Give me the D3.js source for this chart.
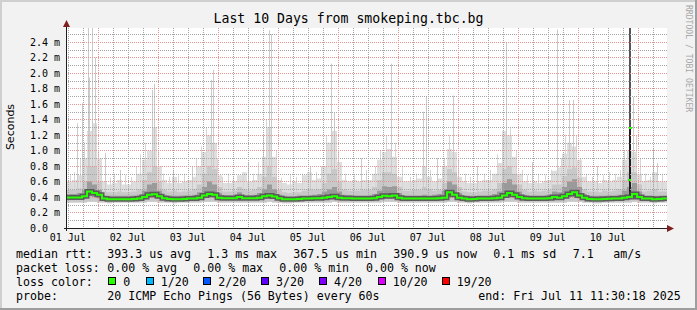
<!DOCTYPE html>
<html>
<head>
<meta charset="utf-8">
<style>
  body { margin: 0; background: #f2f2f2; }
  svg { display: block; }
  text { font-family: "DejaVu Sans Mono", monospace; fill: #000; }
</style>
</head>
<body>
<svg id="chart" width="697" height="310"></svg>
<script src="https://cdnjs.cloudflare.com/ajax/libs/d3/7.8.5/d3.min.js"></script>
<script>
// 10 days, one value per 2 hour bin (values in ms)
const startTime = Date.UTC(2025, 6, 1, 11, 42);
const binHours = 2;

const medianMs = [
  0.395,0.395,0.395,0.41,0.47,0.45,0.43,0.38,0.372,0.372,0.372,0.372,
  0.372,0.375,0.38,0.40,0.43,0.435,0.41,0.385,0.375,0.372,0.372,0.375,
  0.38,0.38,0.39,0.42,0.44,0.43,0.39,0.383,0.383,0.383,0.40,0.385,
  0.385,0.385,0.39,0.41,0.42,0.405,0.385,0.372,0.37,0.37,0.375,0.38,
  0.38,0.385,0.385,0.39,0.40,0.41,0.39,0.385,0.383,0.38,0.38,0.38,
  0.38,0.385,0.40,0.415,0.41,0.42,0.39,0.38,0.38,0.38,0.38,0.38,
  0.38,0.38,0.385,0.39,0.46,0.43,0.39,0.38,0.372,0.375,0.38,0.38,
  0.38,0.385,0.39,0.42,0.45,0.43,0.40,0.385,0.38,0.38,0.38,0.38,
  0.385,0.40,0.39,0.41,0.44,0.46,0.42,0.39,0.375,0.372,0.372,0.375,
  0.378,0.38,0.38,0.39,0.40,0.44,0.40,0.38,0.38,0.372,0.375,0.38
];
const loMs = [
  0.33,0.33,0.33,0.33,0.34,0.34,0.33,0.33,0.32,0.33,0.33,0.33,
  0.33,0.33,0.33,0.33,0.34,0.34,0.33,0.33,0.33,0.32,0.33,0.33,
  0.33,0.33,0.33,0.34,0.34,0.34,0.33,0.33,0.33,0.33,0.33,0.33,
  0.33,0.33,0.33,0.33,0.34,0.33,0.33,0.32,0.32,0.33,0.33,0.33,
  0.33,0.33,0.33,0.33,0.33,0.34,0.33,0.33,0.33,0.33,0.33,0.33,
  0.33,0.33,0.33,0.34,0.34,0.34,0.33,0.33,0.33,0.33,0.33,0.33,
  0.33,0.33,0.33,0.33,0.34,0.34,0.33,0.33,0.32,0.33,0.33,0.33,
  0.33,0.33,0.33,0.34,0.34,0.34,0.33,0.33,0.33,0.33,0.33,0.33,
  0.33,0.33,0.33,0.33,0.34,0.34,0.34,0.33,0.33,0.32,0.32,0.33,
  0.33,0.33,0.33,0.33,0.33,0.34,0.33,0.33,0.33,0.32,0.33,0.33
];
const p25Ms = [
  0.37,0.37,0.37,0.38,0.41,0.40,0.38,0.355,0.35,0.35,0.35,0.35,
  0.35,0.35,0.355,0.37,0.39,0.395,0.375,0.36,0.355,0.35,0.35,0.35,
  0.355,0.355,0.365,0.39,0.40,0.39,0.365,0.36,0.36,0.36,0.37,0.36,
  0.36,0.36,0.365,0.38,0.39,0.38,0.36,0.35,0.35,0.35,0.355,0.355,
  0.355,0.36,0.36,0.365,0.37,0.38,0.365,0.36,0.36,0.355,0.355,0.355,
  0.355,0.36,0.37,0.385,0.38,0.39,0.365,0.355,0.355,0.355,0.355,0.355,
  0.355,0.355,0.36,0.365,0.41,0.40,0.365,0.355,0.35,0.35,0.355,0.355,
  0.355,0.36,0.365,0.39,0.41,0.395,0.37,0.36,0.355,0.355,0.355,0.355,
  0.36,0.37,0.365,0.38,0.40,0.41,0.385,0.36,0.35,0.35,0.35,0.35,
  0.355,0.355,0.355,0.365,0.37,0.40,0.37,0.355,0.355,0.35,0.35,0.355
];
const p75Ms = [
  0.44,0.44,0.45,0.49,0.60,0.56,0.49,0.42,0.415,0.415,0.415,0.415,
  0.415,0.42,0.43,0.48,0.56,0.58,0.48,0.43,0.42,0.415,0.415,0.42,
  0.42,0.43,0.46,0.53,0.60,0.56,0.45,0.425,0.425,0.425,0.46,0.425,
  0.425,0.43,0.45,0.50,0.56,0.50,0.43,0.415,0.41,0.41,0.42,0.42,
  0.42,0.43,0.44,0.47,0.50,0.53,0.47,0.43,0.425,0.42,0.42,0.42,
  0.42,0.44,0.48,0.54,0.53,0.54,0.45,0.42,0.42,0.42,0.42,0.43,
  0.42,0.43,0.44,0.48,0.60,0.56,0.45,0.42,0.415,0.415,0.42,0.42,
  0.42,0.44,0.47,0.58,0.63,0.56,0.47,0.43,0.42,0.42,0.42,0.42,
  0.43,0.47,0.46,0.53,0.60,0.63,0.53,0.44,0.415,0.415,0.415,0.415,
  0.42,0.42,0.43,0.48,0.53,0.58,0.47,0.42,0.42,0.415,0.415,0.42
];
const p90Ms = [
  0.49,0.49,0.51,0.60,0.80,0.80,0.60,0.47,0.46,0.46,0.47,0.46,
  0.46,0.47,0.50,0.62,0.72,0.80,0.60,0.49,0.47,0.48,0.46,0.47,
  0.48,0.50,0.56,0.70,0.80,0.76,0.53,0.47,0.47,0.48,0.53,0.50,
  0.48,0.49,0.53,0.66,0.80,0.66,0.49,0.46,0.45,0.46,0.46,0.48,
  0.50,0.49,0.50,0.58,0.70,0.76,0.60,0.49,0.48,0.48,0.48,0.49,
  0.49,0.53,0.62,0.72,0.72,0.70,0.53,0.48,0.48,0.49,0.49,0.53,
  0.50,0.48,0.49,0.58,0.76,0.72,0.53,0.47,0.46,0.46,0.47,0.48,
  0.48,0.50,0.58,0.76,0.80,0.70,0.56,0.49,0.47,0.48,0.47,0.48,
  0.49,0.56,0.56,0.67,0.76,0.78,0.65,0.50,0.47,0.47,0.46,0.48,
  0.47,0.48,0.50,0.62,0.72,0.72,0.56,0.47,0.48,0.50,0.47,0.47
];
const hiMs = [
  0.60,0.62,0.68,0.90,1.25,1.35,0.90,0.60,0.56,0.58,0.62,0.56,
  0.56,0.60,0.70,0.88,1.00,1.30,0.80,0.62,0.58,0.66,0.58,0.60,
  0.62,0.66,0.80,0.98,1.20,1.10,0.68,0.58,0.58,0.60,0.68,0.72,
  0.60,0.62,0.70,0.92,1.30,0.92,0.62,0.58,0.56,0.60,0.58,0.68,
  0.72,0.62,0.64,0.80,1.10,1.25,0.85,0.62,0.60,0.62,0.60,0.62,
  0.62,0.70,0.88,0.98,1.02,0.92,0.66,0.60,0.60,0.62,0.64,0.80,
  0.66,0.60,0.64,0.80,1.02,0.98,0.66,0.60,0.58,0.58,0.60,0.62,
  0.62,0.70,0.84,1.25,1.20,0.92,0.70,0.60,0.58,0.60,0.58,0.60,
  0.62,0.74,0.78,0.96,1.10,1.05,0.88,0.66,0.60,0.60,0.58,0.62,
  0.60,0.62,0.66,0.88,1.00,0.98,0.70,0.60,0.62,0.72,0.60,0.60
];
// tall single-ping spikes: hours after start, height in ms
const spikeHours = [4.0, 6.0, 8.4, 8.9, 10.0, 11.2, 15.2, 21.2, 34.0, 34.9, 42.4, 50.0, 57.5, 58.5, 72.4, 80.9, 81.6, 97.2, 105.6, 106.9, 117.6, 129.6, 142.5, 143.6, 148.0, 154.5, 164.0, 175.6, 186.0, 195.9, 200.9, 202.3, 212.0, 226.3, 234.4, 236.0];
const spikeMs    = [1.35, 1.61, 2.58, 1.94, 2.58, 2.20, 0.97, 0.75, 1.78, 1.86, 0.75, 0.80, 1.91, 2.04, 0.85, 2.55, 2.50, 0.80, 2.12, 1.48, 0.90, 2.12, 1.50, 1.69, 0.90, 1.71, 0.80, 2.40, 0.85, 2.56, 1.65, 1.65, 0.80, 1.69, 1.03, 0.84];
// shorter spikes that make up the ragged top of the smoke
const smallSpikeHours = [1.2, 2.8, 5.2, 6.8, 12.4, 13.6, 17.2, 18.8, 23.2, 25.6, 27.6, 29.2, 31.2, 36.4, 38.4, 40.8, 44.4, 46.8, 51.6, 53.6, 55.6, 60.0, 62.0, 64.4, 66.4, 70.4, 74.4, 76.4, 78.4, 79.6, 83.6, 85.6, 89.2, 91.6, 94.0, 99.6, 101.6, 103.6, 108.4, 111.2, 114.8, 119.6, 123.2, 125.2, 127.6, 131.2, 134.0, 137.2, 139.6, 145.2, 150.8, 152.8, 156.4, 159.2, 161.2, 166.8, 169.2, 172.0, 174.0, 177.2, 179.6, 182.0, 184.0, 188.4, 191.2, 193.6, 197.6, 199.2, 203.6, 205.2, 207.6, 210.0, 214.4, 216.8, 219.2, 221.2, 222.8, 227.6, 229.2, 231.2, 233.2, 238.0];
const smallSpikeMs    = [0.68, 0.72, 0.90, 1.10, 1.00, 0.80, 0.65, 0.70, 0.68, 0.66, 0.80, 0.95, 1.10, 1.00, 0.70, 0.66, 0.68, 0.70, 0.90, 1.05, 1.30, 0.90, 0.66, 0.70, 0.66, 0.68, 0.70, 0.85, 1.20, 1.40, 1.00, 0.65, 0.68, 0.66, 0.70, 0.72, 0.80, 1.20, 1.00, 0.70, 0.68, 0.75, 0.80, 1.00, 1.20, 1.10, 0.80, 0.66, 0.70, 0.75, 0.90, 1.20, 0.90, 0.70, 0.66, 0.70, 0.75, 0.95, 1.20, 1.30, 1.00, 0.75, 0.68, 0.70, 0.68, 0.75, 0.90, 1.20, 1.20, 0.90, 0.70, 0.66, 0.68, 0.72, 0.70, 0.75, 1.00, 1.20, 0.90, 0.70, 0.66, 0.70];
// the one burst where all pings were slow (10 Jul)
const burstHour = 224.7;
const burstTopMs = 2.58;
const burstMedianMs = [0.62, 1.29];

const yTicks = [0.0, 0.2, 0.4, 0.6, 0.8, 1.0, 1.2, 1.4, 1.6, 1.8, 2.0, 2.2, 2.4];
const lossLabels = ["0", "1/20", "2/20", "3/20", "4/20", "10/20", "19/20"];
const lossColors = ["#26ff00", "#00b8ff", "#0059ff", "#5e00ff", "#7e00ff", "#dd00ff", "#ff0000"];
const legendRows = [
  ["median rtt:", "393.3 us avg", "1.3 ms max", "367.5 us min", "390.9 us now", "0.1 ms sd", "7.1", "am/s"],
  ["packet loss:", "0.00 % avg", "0.00 % max", "0.00 % min", "0.00 % now"],
  ["loss color:"],
  ["probe:", "20 ICMP Echo Pings (56 Bytes) every 60s", "end: Fri Jul 11 11:30:18 2025"]
];

const W = 697, H = 310;
const plot = { left: 67, right: 667, top: 28, bottom: 228 };
const hour = 3600e3;
const svg = d3.select("#chart");

const x = d3.scaleUtc()
  .domain([new Date(startTime), new Date(startTime + 240 * hour)])
  .range([plot.left, plot.right]);
const y = d3.scaleLinear().domain([0, 2.58]).range([plot.bottom, plot.top]);
const hx = h => Math.round(x(new Date(startTime + h * hour))) + 0.5;

// dotted grid patterns: one lit pixel every two
const defs = svg.append("defs");
[["hGray", 2, 1, "#a4a4a4"], ["hRed", 2, 1, "#e69494"], ["vGray", 1, 2, "#a4a4a4"], ["vRed", 1, 2, "#e69494"]]
  .forEach(([id, w, h, c]) => {
    defs.append("pattern").attr("id", id).attr("patternUnits", "userSpaceOnUse")
      .attr("width", w).attr("height", h)
      .append("rect").attr("width", 1).attr("height", 1).attr("fill", c);
  });

// frame
svg.append("rect").attr("width", W).attr("height", H).attr("fill", "#f2f2f2");
svg.append("path").attr("d", `M0,${H} V0 H${W}`).attr("stroke", "#cfcfcf").attr("stroke-width", 2).attr("fill", "none").attr("transform", "translate(1,1)");
svg.append("path").attr("d", `M0,${H - 1} H${W - 1} V0`).attr("stroke", "#9e9e9e").attr("stroke-width", 2).attr("fill", "none");
svg.append("rect").attr("x", plot.left).attr("y", plot.top)
  .attr("width", plot.right - plot.left).attr("height", plot.bottom - plot.top).attr("fill", "#fff");

svg.append("clipPath").attr("id", "clip").append("rect")
  .attr("x", plot.left).attr("y", plot.top)
  .attr("width", plot.right - plot.left).attr("height", plot.bottom - plot.top);
const g = svg.append("g").attr("clip-path", "url(#clip)");

const rows = medianMs.map((m, i) => ({
  t: new Date(startTime + i * binHours * hour),
  median: m, lo: loMs[i], p25: p25Ms[i], p75: p75Ms[i], p90: p90Ms[i], hi: hiMs[i]
}));
rows.push(Object.assign({}, rows[rows.length - 1], { t: new Date(startTime + 240 * hour) }));

const band = (lo, hi) => d3.area().curve(d3.curveStepAfter)
  .x(d => x(d.t)).y0(d => y(d[lo])).y1(d => y(d[hi]));

g.append("path").datum(rows).attr("d", band("lo", "hi")).attr("fill", "#dedede");

g.selectAll(".sspike").data(smallSpikeHours).join("line")
  .attr("class", "sspike")
  .attr("x1", hx).attr("x2", hx)
  .attr("y1", y(0.45)).attr("y2", (h, i) => y(smallSpikeMs[i]))
  .attr("stroke", "#d6d6d6");
g.selectAll(".spike").data(spikeHours).join("line")
  .attr("class", "spike")
  .attr("x1", hx).attr("x2", hx)
  .attr("y1", y(0.45)).attr("y2", (h, i) => y(spikeMs[i]))
  .attr("stroke", "#cacaca");

g.append("path").datum(rows).attr("d", band("lo", "p90")).attr("fill", "#c8c8c8");
g.append("path").datum(rows).attr("d", band("p25", "p75")).attr("fill", "#9a9a9a");

// burst column
const bx = Math.round(x(new Date(startTime + burstHour * hour)));
g.append("rect").attr("x", bx).attr("width", 2)
  .attr("y", y(burstTopMs)).attr("height", y(d3.max(burstMedianMs)) - y(burstTopMs)).attr("fill", "#555");
g.append("rect").attr("x", bx).attr("width", 2)
  .attr("y", y(d3.max(burstMedianMs))).attr("height", y(0.42) - y(d3.max(burstMedianMs))).attr("fill", "#1e1e1e");

// grid, drawn over the smoke like rrdtool does
const grid = g.append("g").attr("shape-rendering", "crispEdges");
const hLines = d3.range(0, 26).map(i => i / 10);
grid.selectAll(".hg").data(hLines).join("rect")
  .attr("class", "hg")
  .attr("x", plot.left).attr("width", plot.right - plot.left)
  .attr("y", d => Math.round(y(d))).attr("height", 1)
  .attr("fill", (d, i) => i % 2 === 0 ? "url(#hRed)" : "url(#hGray)");
const vTimes = d3.utcHour.every(6).range(x.domain()[0], x.domain()[1]);
grid.selectAll(".vg").data(vTimes).join("rect")
  .attr("class", "vg")
  .attr("y", plot.top).attr("height", plot.bottom - plot.top)
  .attr("x", d => Math.round(x(d))).attr("width", 1)
  .attr("fill", d => d.getUTCHours() === 0 ? "url(#vRed)" : "url(#vGray)");

// median: dark smoke core hugging it, then the green line
const medLine = d3.line().curve(d3.curveStepAfter).x(d => x(d.t)).y(d => y(d.median));
g.append("path").datum(rows).attr("d", medLine)
  .attr("fill", "none").attr("stroke", "#4d4d4d").attr("stroke-width", 5).attr("stroke-opacity", 0.85);
g.append("path").datum(rows).attr("d", medLine)
  .attr("fill", "none").attr("stroke", "#26ff00").attr("stroke-width", 2);
g.selectAll(".bm").data(burstMedianMs).join("rect")
  .attr("class", "bm")
  .attr("x", (d, i) => bx + i - 1).attr("width", 3)
  .attr("y", d => y(d) - 1).attr("height", 2).attr("fill", "#26ff00");

// axes
svg.append("line").attr("x1", 66.5).attr("x2", 66.5).attr("y1", 25).attr("y2", 231).attr("stroke", "#1f1f1f");
svg.append("line").attr("x1", 64).attr("x2", 669).attr("y1", 228.5).attr("y2", 228.5).attr("stroke", "#1f1f1f");
svg.append("path").attr("d", "M66.5,20 L63,27 L70,27 Z").attr("fill", "#801f1f");
svg.append("path").attr("d", "M674,228.5 L667,225 L667,232 Z").attr("fill", "#801f1f");

svg.selectAll(".yl").data(yTicks).join("text")
  .attr("class", "yl")
  .attr("x", 30).attr("y", d => Math.round(y(d)) + 4)
  .style("font-size", "10px")
  .text(d => d === 0 ? "0.0" : d3.format(".1f")(d) + " m");

const days = d3.utcDay.range(new Date(Date.UTC(2025, 6, 1)), new Date(Date.UTC(2025, 6, 11)));
svg.selectAll(".xl").data(days).join("text")
  .attr("class", "xl")
  .attr("x", d => x(new Date(+d + 12 * hour)))
  .attr("y", 241).attr("text-anchor", "middle")
  .style("font-size", "10px")
  .text(d3.utcFormat("%d %b"));

svg.append("text").attr("x", 348.5).attr("y", 23).attr("text-anchor", "middle")
  .style("font-size", "13.2px").text("Last 10 Days from smokeping.tbc.bg");
svg.append("text").attr("transform", "translate(14,127) rotate(-90)").attr("text-anchor", "middle")
  .style("font-family", "'DejaVu Sans', sans-serif").style("font-size", "11px").text("Seconds");
svg.append("text").attr("transform", "translate(685.5,5) rotate(90)")
  .style("font-size", "8.1px").style("fill", "#a8a8a8").text("RRDTOOL / TOBI OETIKER");

// legend
const legendX = [
  [16, 107.3, 207.3, 293.3, 393.3, 493.3, 572.7, 613.3],
  [16, 107.3, 193.3, 279.3, 366],
  [16],
  [16, 107.3, 478.3]
];
const legendY = [258, 272, 286, 300];
legendRows.forEach((row, r) => {
  row.forEach((s, c) => {
    svg.append("text").attr("x", legendX[r][c]).attr("y", legendY[r])
      .style("font-size", "11.6px").text(s);
  });
});
const boxX = [108.3, 145.7, 203.3, 261, 319, 377.7, 441.7];
lossLabels.forEach((s, i) => {
  svg.append("rect").attr("x", Math.round(boxX[i]) + 0.5).attr("y", 277.5)
    .attr("width", 7).attr("height", 7).attr("fill", lossColors[i]).attr("stroke", "#000");
  svg.append("text").attr("x", boxX[i] + 15).attr("y", legendY[2])
    .style("font-size", "11.6px").text(s);
});
</script>
</body>
</html>
